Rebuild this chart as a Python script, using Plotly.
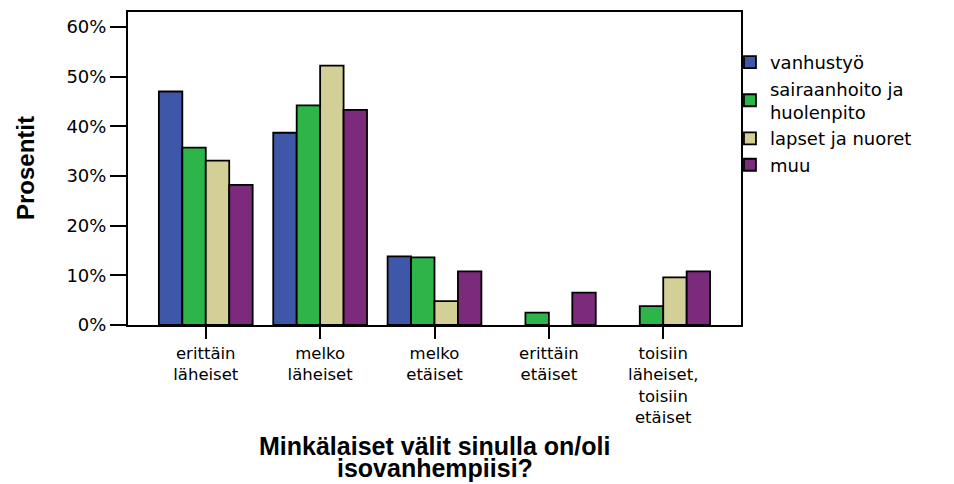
import plotly.graph_objects as go

categories = ["erittäin<br>läheiset", "melko<br>läheiset", "melko<br>etäiset",
              "erittäin<br>etäiset", "toisiin<br>läheiset,<br>toisiin<br>etäiset"]
series_names = ["vanhustyö", "sairaanhoito ja<br>huolenpito", "lapset ja nuoret", "muu"]
vanhustyo = [47.0, 38.7, 13.8, None, None]
sairaanhoito = [35.7, 44.2, 13.6, 2.5, 3.8]
lapset = [33.1, 52.2, 4.8, None, 9.6]
muu = [28.2, 43.3, 10.8, 6.5, 10.8]
y_tickvals = [0, 10, 20, 30, 40, 50, 60]
y_ticktext = ["0%", "10%", "20%", "30%", "40%", "50%", "60%"]
colors = ["#3F57A8", "#2DB549", "#D4CE97", "#7B2A7C"]

# page body has an 8px margin, so the figure is 8px smaller on each axis
L, R, T, B = 120, 733, 2, 317
W, H = 946, 476
PW, PH = R - L, B - T

fig = go.Figure()
for name, vals, col in zip(series_names, [vanhustyo, sairaanhoito, lapset, muu], colors):
    fig.add_trace(go.Bar(x=categories, y=vals, name=name,
                         marker=dict(color=col, line=dict(color="black", width=1.8))))

fig.update_layout(
    width=W, height=H,
    margin=dict(l=L, r=W - R, t=T, b=H - B),
    paper_bgcolor="white", plot_bgcolor="white",
    barmode="group", bargap=0.18, bargroupgap=0,
    showlegend=True,
    legend=dict(x=0.982, xanchor="left", y=0.898, yanchor="top",
                font=dict(family="DejaVu Sans", size=18, color="black"),
                bgcolor="rgba(0,0,0,0)", tracegroupgap=0),
    font=dict(family="DejaVu Sans", color="black"),
)
fig.update_xaxes(range=[-0.68, 4.68], showline=True, linecolor="black", linewidth=2,
                 mirror=True, ticks="outside", ticklen=12, tickwidth=2, tickcolor="black",
                 tickfont=dict(family="DejaVu Sans", size=16.5, color="black"),
                 showgrid=False, zeroline=False)
fig.update_yaxes(range=[0, 63], tickvals=y_tickvals, ticktext=y_ticktext,
                 showline=True, linecolor="black", linewidth=2, mirror=True,
                 ticks="outside", ticklen=16, tickwidth=2, tickcolor="black",
                 tickfont=dict(family="DejaVu Sans", size=18, color="black"),
                 showgrid=False, zeroline=False)

fig.add_annotation(text="Prosentit", xref="paper", yref="paper",
                   x=(17 - L) / PW, y=(B - 159) / PH, textangle=-90,
                   showarrow=False, xanchor="center", yanchor="middle",
                   font=dict(family="Liberation Sans Narrow, Arial Narrow, sans-serif",
                             size=24, color="black", weight="bold"))
fig.add_annotation(text="Minkälaiset välit sinulla on/oli", xref="paper", yref="paper",
                   x=0.5, y=-(439 - B) / PH, showarrow=False,
                   xanchor="center", yanchor="middle",
                   font=dict(family="Liberation Sans, Arial, sans-serif", size=25,
                             color="black", weight="bold"))
fig.add_annotation(text="isovanhempiisi?", xref="paper", yref="paper",
                   x=0.5, y=-(461 - B) / PH, showarrow=False,
                   xanchor="center", yanchor="middle",
                   font=dict(family="Liberation Sans, Arial, sans-serif", size=25,
                             color="black", weight="bold"))

fig.write_html("out.html")
